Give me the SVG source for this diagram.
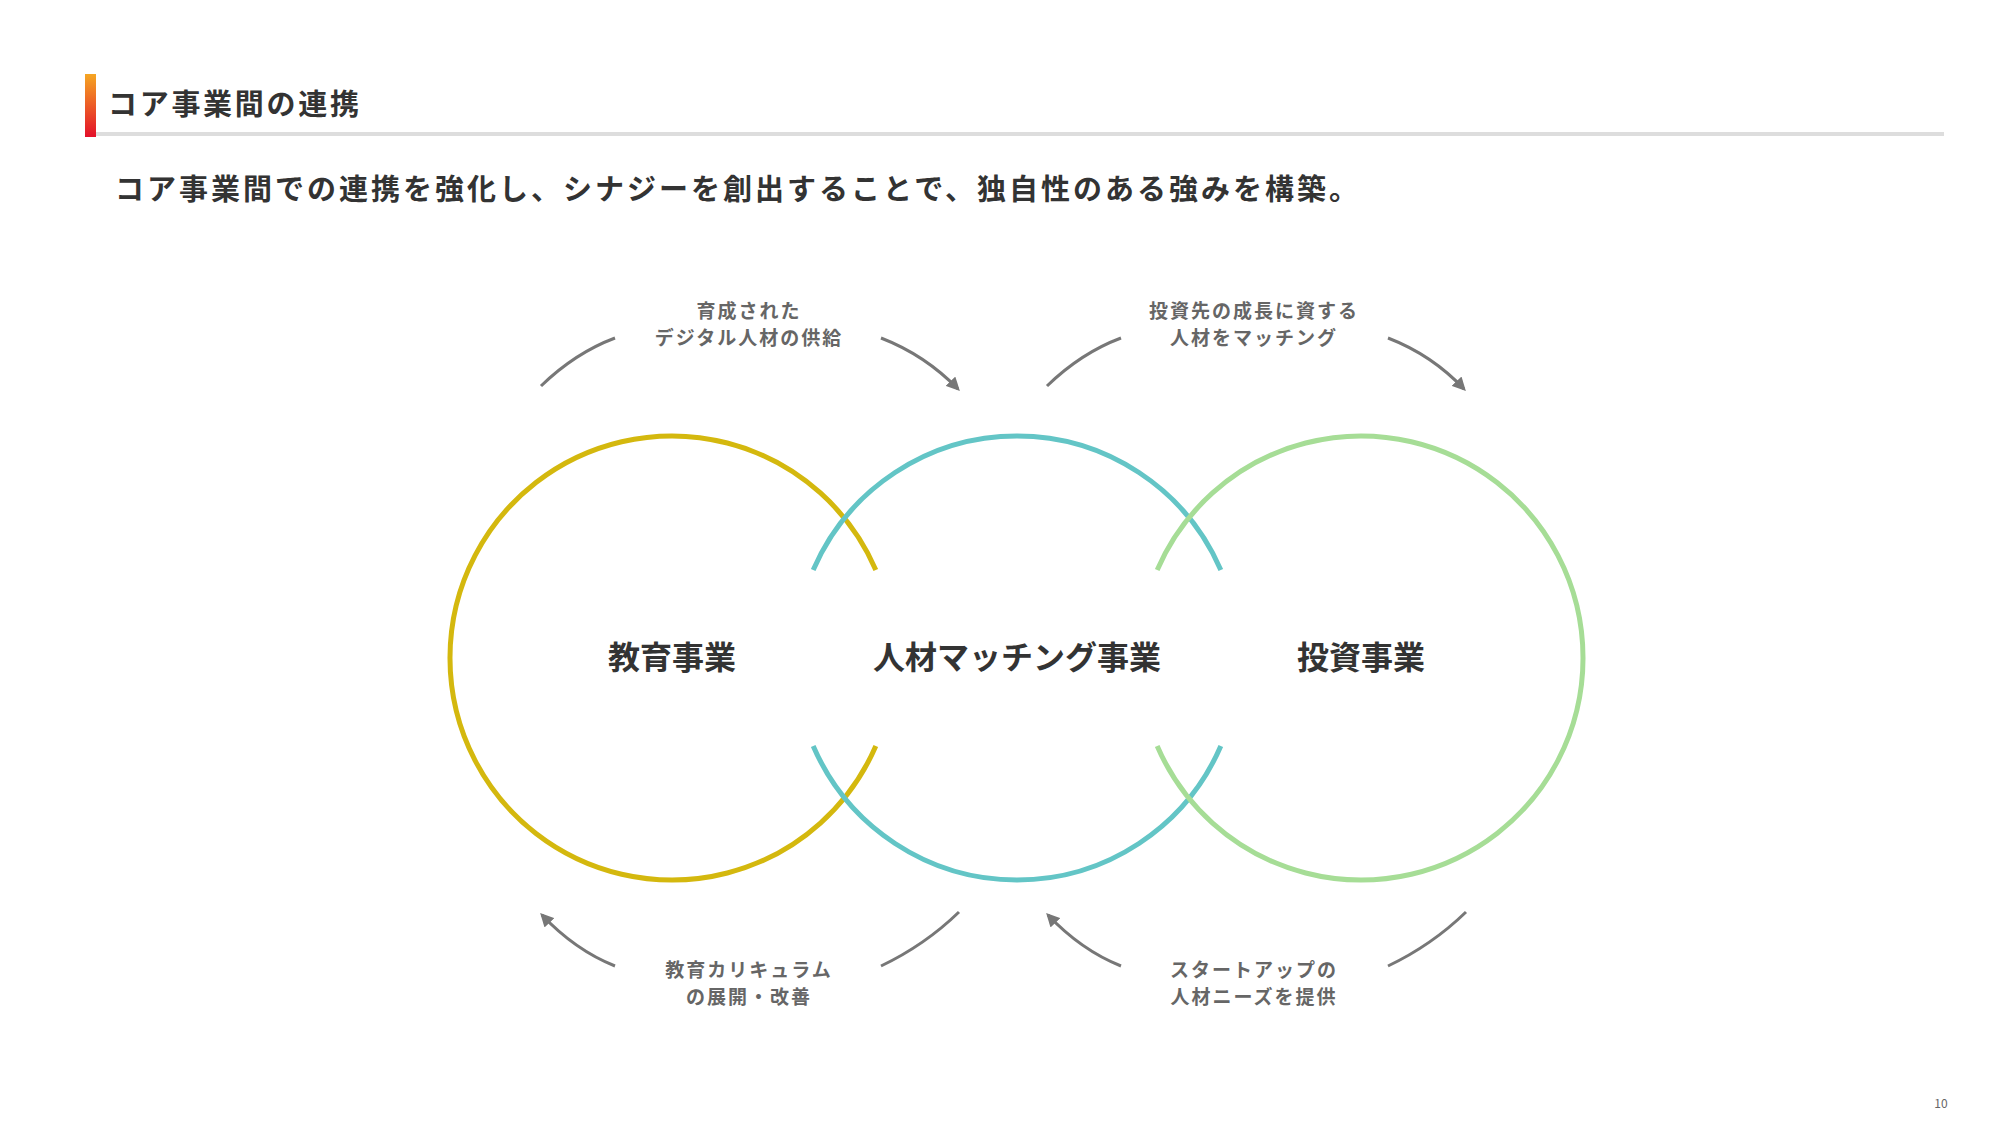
<svg xmlns="http://www.w3.org/2000/svg" width="2000" height="1125" viewBox="0 0 2000 1125">
<defs>
<linearGradient id="bar" x1="0" y1="0" x2="0" y2="1"><stop offset="0" stop-color="#F5A623"/><stop offset="1" stop-color="#E3102A"/></linearGradient>
<marker id="ah" viewBox="0 0 10 10" refX="8" refY="5" markerWidth="4.5" markerHeight="4.5" orient="auto-start-reverse"><path d="M0,0 L10,5 L0,10 z" fill="#777"/></marker>
<style>
text{font-family:"Noto Sans CJK JP","Noto Sans",sans-serif;}
.t{fill:#333;font-weight:700;}
.lbl{fill:#666;font-size:19px;font-weight:700;text-anchor:middle;letter-spacing:2px;}
.node{fill:#333;font-size:32px;font-weight:700;text-anchor:middle;}
.arc{fill:none;stroke:#777;stroke-width:3;}
.c{fill:none;stroke-width:5;}
</style>
</defs>
<rect width="2000" height="1125" fill="#fff"/>
<rect x="85" y="74" width="11" height="63" fill="url(#bar)"/>
<rect x="96" y="132" width="1848" height="4" fill="#DDDDDD"/>
<text class="t" x="108" y="115" font-size="29" letter-spacing="2.7">コア事業間の連携</text>
<text class="t" x="115" y="200" font-size="29" letter-spacing="3">コア事業間での連携を強化し、シナジーを創出することで、独自性のある強みを構築。</text>
<g id="edu">
<path class="c" stroke="#D4B80E" d="M875.8 570 A222 222 0 1 0 875.8 746"/>
<text class="node" x="672" y="669">教育事業</text>
</g>
<g id="match">
<path class="c" stroke="#63C5C6" d="M813.2 570 A222 222 0 0 1 1220.8 570 M813.2 746 A222 222 0 0 0 1220.8 746"/>
<text class="node" x="1017" y="669">人材マッチング事業</text>
</g>
<g id="inv">
<path class="c" stroke="#A6DD96" d="M1157.2 570 A222 222 0 1 1 1157.2 746"/>
<text class="node" x="1361" y="669">投資事業</text>
</g>
<g id="connectors">
<path class="arc" d="M541 386 Q575 353 615 338"/>
<path class="arc" d="M881 338 Q925 355 958 389" marker-end="url(#ah)"/>
<path class="arc" d="M1047 386 Q1081 353 1121 338"/>
<path class="arc" d="M1388 338 Q1432 355 1464 389" marker-end="url(#ah)"/>
<path class="arc" d="M615 966 Q575 950 542 915" marker-end="url(#ah)"/>
<path class="arc" d="M881 966 Q925 945 959 912"/>
<path class="arc" d="M1121 966 Q1081 950 1048 915" marker-end="url(#ah)"/>
<path class="arc" d="M1388 966 Q1432 945 1466 912"/>
<text class="lbl" x="749" y="318">育成された</text>
<text class="lbl" x="749" y="345">デジタル人材の供給</text>
<text class="lbl" x="1254" y="318">投資先の成長に資する</text>
<text class="lbl" x="1254" y="345">人材をマッチング</text>
<text class="lbl" x="749" y="977">教育カリキュラム</text>
<text class="lbl" x="749" y="1004">の展開・改善</text>
<text class="lbl" x="1254" y="977">スタートアップの</text>
<text class="lbl" x="1254" y="1004">人材ニーズを提供</text>
</g>
<text x="1941" y="1108" font-size="12" fill="#666" text-anchor="middle">10</text>
</svg>
